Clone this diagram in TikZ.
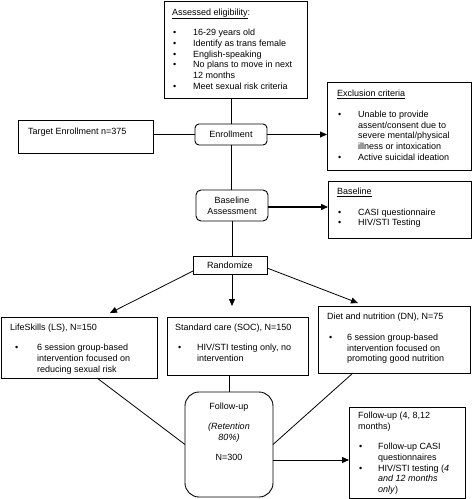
\documentclass[tikz,border=0pt]{standalone}
\usepackage{fontspec}
\setmainfont{Liberation Sans}
\usetikzlibrary{calc,arrows.meta}
\newlength\Bind
\newlength\Bgap
\newcommand\Bitem[1]{\hbox{\hskip\Bind\hbox to\Bgap{\textbullet\hss}#1}}
\newcommand\Bcont[1]{\hbox{\hskip\Bind\hskip\Bgap #1}}
\newcommand\Tline[1]{\hbox{#1}}
\newcommand\Tgap{\vskip 9.6pt}
\newcommand\Blist[3]{\setlength\Bind{#1}\setlength\Bgap{#2}\vtop{#3}}
\tikzset{
  fnt/.style={font=\fontsize{9}{10.8}\selectfont},
  box/.style={draw, line width=0.9pt, inner sep=0pt, outer sep=0pt, fnt},
  rbox/.style={box, rounded corners=4pt},
  txt/.style={anchor=base west, inner sep=0pt, fnt},
  ctxt/.style={anchor=base, inner sep=0pt, fnt},
  conn/.style={line width=0.8pt},
  arr/.style={conn, -{Triangle[length=7pt,width=6pt]}},
}
\begin{document}
\begin{tikzpicture}[x=1pt,y=-1pt]
\useasboundingbox (0,0) rectangle (473,499);
% boxes
\node[box, minimum width=143pt, minimum height=97pt] (elig) at (235.5,49.5) {};
\node[rbox, minimum width=72pt, minimum height=21pt] (enroll) at (231,134.5) {Enrollment};
\node[box, minimum width=135pt, minimum height=33pt] (target) at (85.5,136.5) {};
\node[box, minimum width=144pt, minimum height=88pt] (excl) at (399,126) {};
\node[rbox, rounded corners=5pt, minimum width=72pt, minimum height=31pt, align=center] (baseA) at (232,205.5) {Baseline\\Assessment};
\node[box, minimum width=143pt, minimum height=57pt] (basebox) at (399.5,209.5) {};
\node[box, minimum width=74pt, minimum height=18pt] (rand) at (230,265) {Randomize};
\node[box, minimum width=156pt, minimum height=61pt] (ls) at (79,347.5) {};
\node[box, minimum width=141pt, minimum height=58pt] (soc) at (237.5,346) {};
\node[box, minimum width=152pt, minimum height=67pt] (dn) at (394,339.5) {};
\node[rbox, rounded corners=14pt, minimum width=88pt, minimum height=105pt] (fu) at (229,444.5) {};
\node[box, minimum width=116pt, minimum height=91pt] (fubox) at (407,452.5) {};
% texts
\node[txt] (eligtxt) at (172,15) {\Blist{1pt}{20pt}{\Tline{\underline{Assessed eligibility}:}\Tgap
  \Bitem{16-29 years old}\Bitem{Identify as trans female}\Bitem{English-speaking}
  \Bitem{No plans to move in next}\Bcont{12 months}\Bitem{Meet sexual risk criteria}}};
\node[txt] (targettxt) at (28,134.3) {Target Enrollment n=375};
\node[txt] (excltxt) at (337,96.3) {\Blist{1pt}{20pt}{\Tline{\underline{Exclusion criteria}}\vskip 10.2pt
  \Bitem{Unable to provide}\Bcont{assent/consent due to}\Bcont{severe mental/physical}
  \Bcont{illness or intoxication}\Bitem{Active suicidal ideation}}};
\node[txt] (basetxt) at (337,194.3) {\Blist{1pt}{20pt}{\Tline{\underline{Baseline}}\vskip 10pt
  \Bitem{CASI questionnaire}\Bitem{HIV/STI Testing}}};
\node[txt] (lstxt) at (10,330.3) {\Blist{5pt}{22pt}{\Tline{LifeSkills (LS), N=150}\Tgap
  \Bitem{6 session group-based}\Bcont{intervention focused on}\Bcont{reducing sexual risk}}};
\node[txt] (soctxt) at (175,330.3) {\Blist{3pt}{19pt}{\Tline{Standard care (SOC), N=150}\Tgap
  \Bitem{HIV/STI testing only, no}\Bcont{intervention}}};
\node[txt] (dntxt) at (327,319.8) {\Blist{2pt}{18pt}{\Tline{Diet and nutrition (DN), N=75}\Tgap
  \Bitem{6 session group-based}\Bcont{intervention focused on}\Bcont{promoting good nutrition}}};
\node[txt] (fuboxtxt) at (358,418.3) {\Blist{1pt}{19pt}{\Tline{Follow-up (4, 8,12}\Tline{months)}\Tgap
  \Bitem{Follow-up CASI}\Bcont{questionnaires}\Bitem{HIV/STI testing (\textit{4}}
  \Bcont{\textit{and 12 months}}\Bcont{\textit{only})}}};
\node[ctxt] (fut1) at (229,409.3) {Follow-up};
\node[ctxt] (fut2) at (229,429.3) {\textit{(Retention}};
\node[ctxt] (fut3) at (229,440.3) {\textit{80\%)}};
\node[ctxt] (fut4) at (229,460.3) {N=300};
% connectors
\draw[conn] (elig.south -| enroll.north) -- (enroll.north);
\draw[conn] (target.east |- enroll.west) -- (enroll.west);
\draw[arr] (enroll.east) -- (excl.west |- enroll.east);
\draw[conn] (enroll.south) -- (enroll.south |- baseA.north);
\draw[arr, line width=1.5pt] ($(baseA.east)+(0,1.5)$) -- ($(basebox.west |- baseA.east)+(0,1.5)$);
\draw[conn] (baseA.south) -- (baseA.south |- rand.north);
\coordinate (lstip) at (110,313);
\coordinate (soctip) at (232,306);
\coordinate (dntip) at (358,303);
\draw[arr] ($(rand.west)+(0,6)$) -- (lstip);
\draw[arr] ($(rand.south)+(2,0)$) -- (soctip);
\draw[arr] ($(rand.east)+(0,3)$) -- (dntip);
\draw[conn] (fu.north |- soc.south) -- (fu.north);
\draw[conn] ($(ls.south west)+(96,0)$) -- (fu.west);
\draw[conn] ($(dn.south west)+(35,0)$) -- (fu.east);
\draw[arr] ($(fu.east)+(0,15.5)$) -- ($(fubox.west |- fu.east)+(0,15.5)$);
\end{tikzpicture}
\end{document}
